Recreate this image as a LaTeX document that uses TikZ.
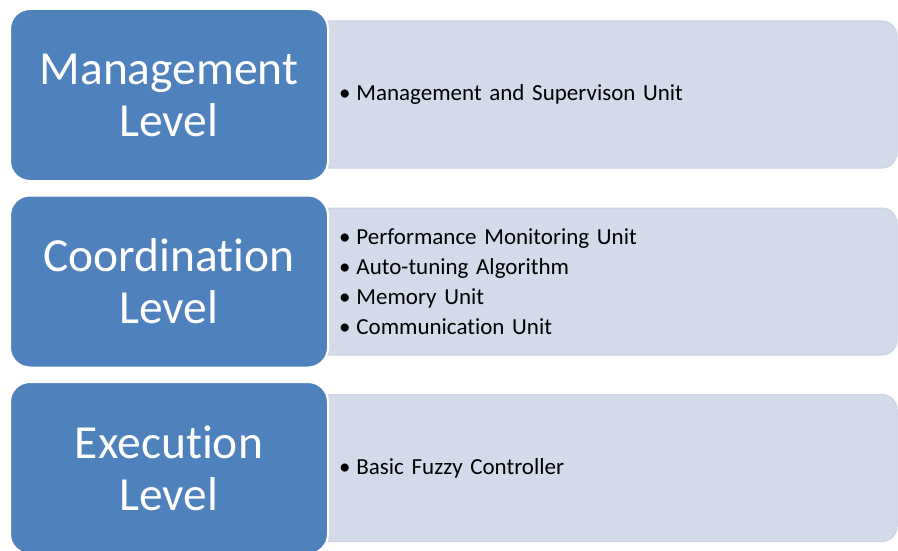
\documentclass[tikz,border=0pt]{standalone}
\usepackage{fontspec}
\setmainfont{Carlito}[Ligatures=NoCommon]
\usepackage{xcolor}
\usetikzlibrary{positioning}

\definecolor{levelblue}{HTML}{4F81BD}
\definecolor{itemfill}{HTML}{D3DAEA}
\definecolor{itemline}{HTML}{C9D2E5}

\newcommand{\li}{\textbullet\hspace{6pt}}

\begin{document}
\begin{tikzpicture}[x=1pt, y=-1pt,
  level/.style={draw=white, line width=2pt, fill=levelblue, rounded corners=20pt,
    minimum width=318pt, minimum height=172pt, inner sep=0pt, align=center,
    text=white, font=\fontsize{47.5}{52}\selectfont},
  items/.style={draw=itemline, line width=1pt, fill=itemfill, rounded corners=15pt,
    minimum width=597pt, minimum height=147pt, inner xsep=39pt, text width=519pt,
    align=left, font=\fontsize{23}{30}\selectfont}
]
\useasboundingbox (0,0) rectangle (898,551);

% right-hand panels first, the level boxes cover their left ends
\node[items] (mgmtitems) at (598.5,94.5) {\li Management and Supervison Unit};
\node[items] (coorditems) at (598.5,281.5) {\li Performance Monitoring Unit\\
  \li Auto-tuning Algorithm\\ \li Memory Unit\\ \li Communication Unit};
\node[items] (execitems) at (598.5,468) {\li Basic Fuzzy Controller};

\node[level] (mgmt) at (169,95) {Management\\Level};
\node[level] (coord) at (169,281.5) {Coordination\\Level};
\node[level] (exec) at (169,468) {Execution\\Level};
\end{tikzpicture}
\end{document}
